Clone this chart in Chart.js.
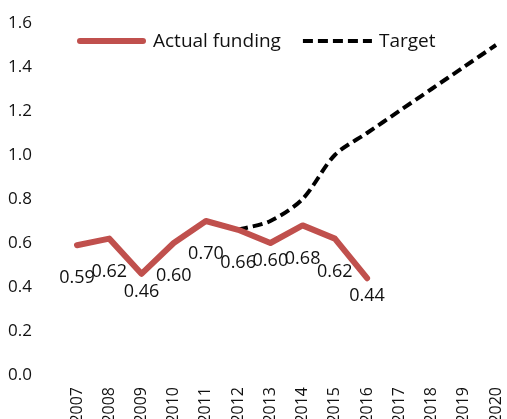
<!DOCTYPE html>
<html>
<head>
<meta charset="utf-8">
<script src="https://cdn.jsdelivr.net/npm/chart.js@4"></script>
<style>
html,body{margin:0;padding:0;background:#fff;overflow:hidden;}
</style>
</head>
<body>
<canvas id="c" width="507" height="419"></canvas>
<script>
const categories = ['2007','2008','2009','2010','2011','2012','2013','2014','2015','2016','2017','2018','2019','2020'];
const actualFunding = [0.59,0.62,0.46,0.60,0.70,0.66,0.60,0.68,0.62,0.44,null,null,null,null];
const target = [null,null,null,null,null,0.66,0.70,0.80,1.00,1.10,1.20,1.30,1.40,1.50];
const yTicks = [0,0.2,0.4,0.6,0.8,1.0,1.2,1.4,1.6];
const seriesNames = ['Actual funding','Target'];

const FONT = '"Open Sans", sans-serif';
const RED = '#C0504D';

const labelPlugin = {
  id: 'dataLabels',
  afterDatasetsDraw(chart) {
    const ctx = chart.ctx;
    const meta = chart.getDatasetMeta(0);
    const ds = chart.data.datasets[0].data;
    ctx.save();
    ctx.font = '18px ' + FONT;
    ctx.fillStyle = '#111';
    ctx.textAlign = 'center';
    ctx.textBaseline = 'middle';
    meta.data.forEach((pt, i) => {
      const v = ds[i];
      if (v === null || v === undefined) return;
      const prev = ds[i-1], next = ds[i+1];
      const isMin = (prev != null && v < prev) && (next == null || v < next);
      const off = isMin ? 18 : 33;
      ctx.fillText(v.toFixed(2), pt.x, pt.y + off);
    });
    ctx.restore();
  }
};

const legendPlugin = {
  id: 'insideLegend',
  afterDraw(chart) {
    const ctx = chart.ctx;
    const y = 41;
    let x = chart.chartArea.left;
    ctx.save();
    ctx.font = '19px ' + FONT;
    ctx.textBaseline = 'middle';
    ctx.textAlign = 'left';
    chart.data.datasets.forEach((ds, i) => {
      ctx.beginPath();
      ctx.strokeStyle = ds.borderColor;
      ctx.lineWidth = ds.borderWidth;
      ctx.lineCap = ds.borderCapStyle || 'butt';
      ctx.setLineDash(ds.borderDash || []);
      const w = 69;
      const inset = ctx.lineCap === 'round' ? ds.borderWidth/2 : 0;
      ctx.moveTo(x + inset, y);
      ctx.lineTo(x + w - inset, y);
      ctx.stroke();
      ctx.setLineDash([]);
      x += w + 7;
      ctx.fillStyle = '#111';
      ctx.fillText(ds.label, x, y + 1);
      x += ctx.measureText(ds.label).width + 22;
    });
    ctx.restore();
  }
};

new Chart(document.getElementById('c'), {
  type: 'line',
  data: {
    labels: categories,
    datasets: [
      {
        label: seriesNames[0],
        data: actualFunding,
        borderColor: RED,
        backgroundColor: RED,
        borderWidth: 6,
        borderCapStyle: 'round',
        borderJoinStyle: 'round',
        pointRadius: 0,
        tension: 0,
        spanGaps: false
      },
      {
        label: seriesNames[1],
        data: target,
        borderColor: '#000',
        backgroundColor: '#000',
        borderWidth: 4,
        borderDash: [10, 5],
        borderCapStyle: 'butt',
        pointRadius: 0,
        tension: 0.3,
        spanGaps: false
      }
    ]
  },
  options: {
    responsive: false,
    animation: false,
    events: [],
    layout: { padding: { left: 0, right: 11, top: 23, bottom: 0 } },
    plugins: { legend: { display: false }, tooltip: { enabled: false } },
    scales: {
      x: {
        offset: false,
        grid: { display: false },
        border: { display: false },
        ticks: {
          autoSkip: false,
          maxRotation: 90,
          minRotation: 90,
          padding: 4,
          color: '#111',
          font: { family: FONT, size: 16 }
        },
        afterFit(scale) {
          scale.height = 44;
          scale.paddingLeft = 0;
          scale.paddingRight = 0;
        }
      },
      y: {
        min: 0,
        max: 1.6,
        grid: { display: false },
        border: { display: false },
        afterBuildTicks(scale) { scale.ticks = yTicks.map(v => ({ value: v })); },
        ticks: {
          padding: 37,
          color: '#111',
          font: { family: FONT, size: 17 },
          callback: v => Number(v).toFixed(1)
        },
        afterFit(scale) {
          scale.width = 77;
          scale.paddingTop = 0;
          scale.paddingBottom = 0;
        }
      }
    }
  },
  plugins: [labelPlugin, legendPlugin]
});
</script>
</body>
</html>
